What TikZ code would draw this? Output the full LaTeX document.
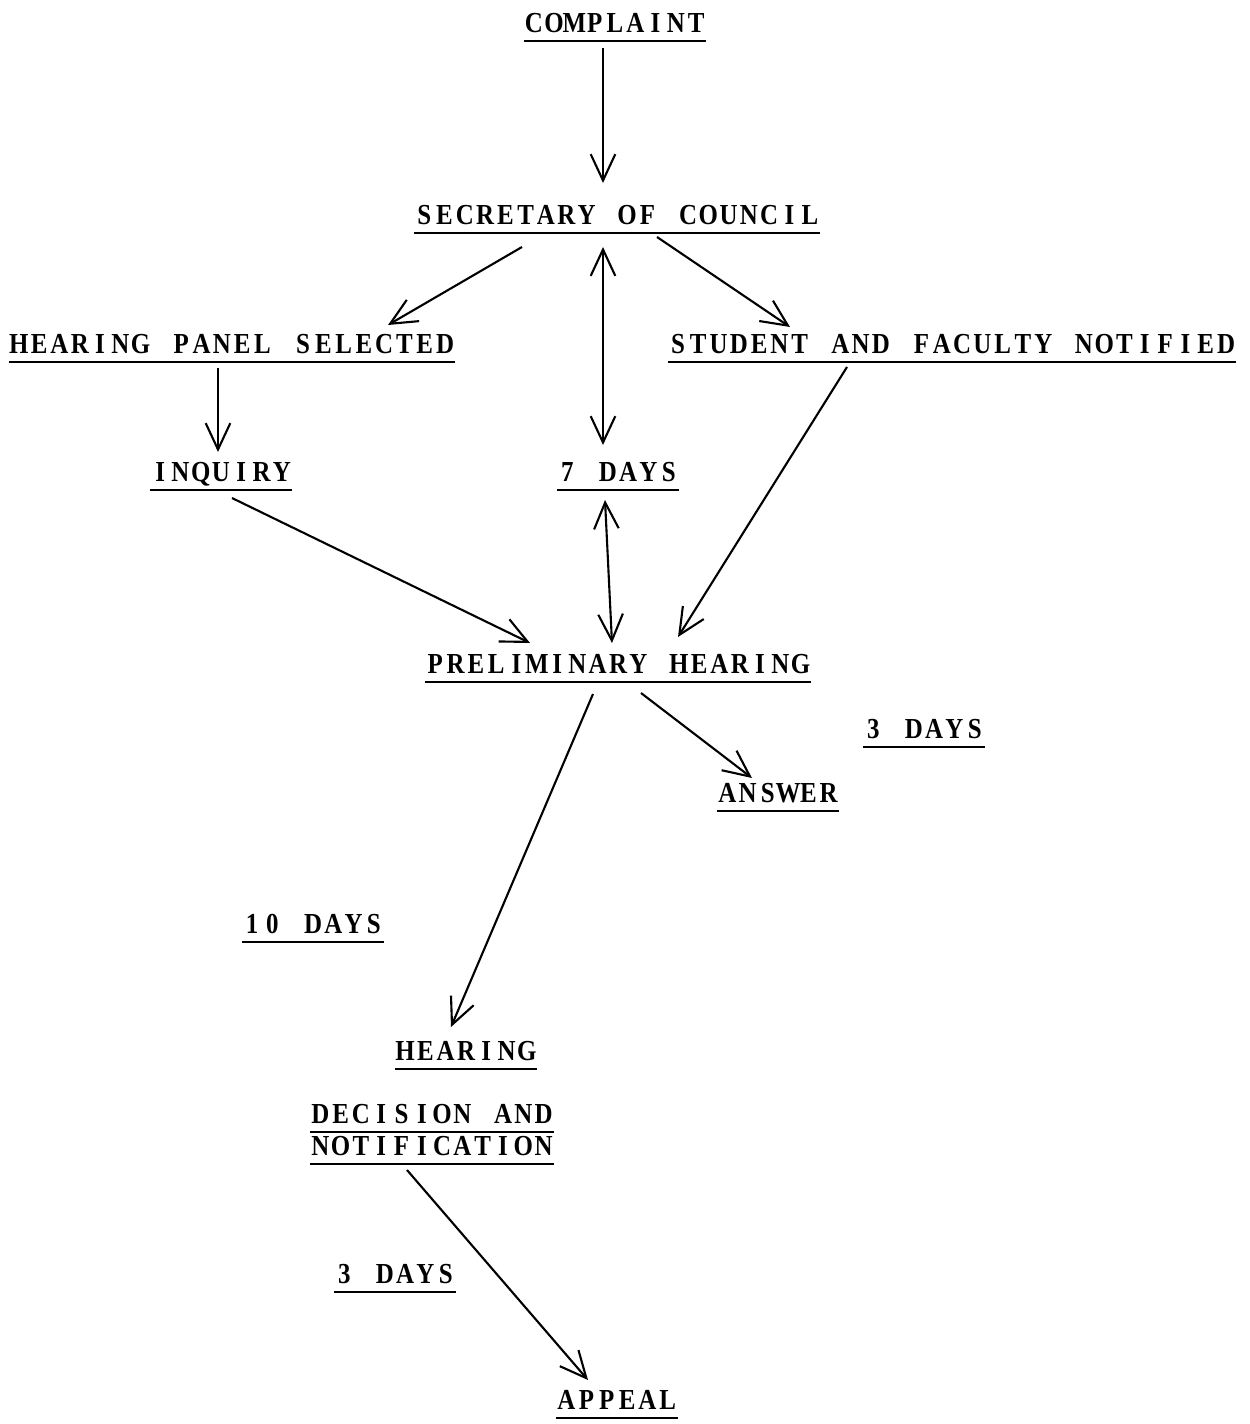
\documentclass[tikz,border=0pt]{standalone}
\usepackage{fontspec}
\setmainfont{Liberation Serif}
\usepackage{graphicx}
\usetikzlibrary{arrows.meta,calc}
\newlength\twpitch
\setlength\twpitch{0.406cm}
\newcommand\tw[1]{\twloop#1\relax}
\def\twloop#1{\ifx\relax#1\else\makebox[\twpitch]{\scalebox{0.86}[1]{#1}}\expandafter\twloop\fi}
\newcommand\twul[1]{\vtop{\hbox{\vphantom{A}\smash{\tw{#1}}}\kern4.6pt\hrule height 1.2pt}}
\tikzset{
  lbl/.style={inner sep=0pt, anchor=base, font=\fontsize{16.5}{19}\selectfont\bfseries},
  tip/.tip={Straight Barb[length=15pt,width=14pt,line width=1.2pt]},
  arr/.style={line width=1.2pt, -tip},
  darr/.style={line width=1.2pt, tip-tip}
}
\begin{document}
\begin{tikzpicture}[x=0.02cm,y=-0.02cm]
\useasboundingbox[fill=white] (0,0) rectangle (1250,1424);
% nodes
\node[lbl] (comp)  at (615,32)   {\twul{COMPLAINT}};
\node[lbl] (sec)   at (617,224)  {\twul{SECRETARY~OF~COUNCIL}};
\node[lbl] (panel) at (232,353)  {\twul{HEARING~PANEL~SELECTED}};
\node[lbl] (notif) at (952,353)  {\twul{STUDENT~AND~FACULTY~NOTIFIED}};
\node[lbl] (inq)   at (221,481)  {\twul{INQUIRY}};
\node[lbl] (d7)    at (618,481)  {\twul{7~DAYS}};
\node[lbl] (prel)  at (618,673)  {\twul{PRELIMINARY~HEARING}};
\node[lbl] (d3a)   at (924,738)  {\twul{3~DAYS}};
\node[lbl] (ans)   at (778,802)  {\twul{ANSWER}};
\node[lbl] (d10)   at (313,933)  {\twul{10~DAYS}};
\node[lbl] (hear)  at (466,1060) {\twul{HEARING}};
\node[lbl] (dec1)  at (432,1123) {\twul{DECISION~AND}};
\node[lbl] (dec2)  at (432,1155) {\twul{NOTIFICATION}};
\node[lbl] (d3b)   at (395,1283) {\twul{3~DAYS}};
\node[lbl] (app)   at (617,1409) {\twul{APPEAL}};
% connectors
\draw[arr]  ($(comp.base)+(-12,16)$)  -- ($(sec.base)+(-14,-41)$);
\draw[arr]  ($(sec.base)+(-95,23)$)   -- ($(panel.base)+(156,-28)$);
\draw[darr] ($(sec.base)+(-14,23)$)   -- ($(d7.base)+(-15,-36)$);
\draw[arr]  ($(sec.base)+(40,13)$)    -- ($(notif.base)+(-162,-26)$);
\draw[arr]  ($(panel.base)+(-14,15)$) -- ($(inq.base)+(-3,-29)$);
\draw[arr]  ($(inq.base)+(11,17)$)    -- ($(prel.base)+(-88,-30)$);
\draw[darr] ($(d7.base)+(-13,19)$)    -- ($(prel.base)+(-6,-30)$);
\draw[arr]  ($(notif.base)+(-105,14)$) -- ($(prel.base)+(60,-36)$);
\draw[arr]  ($(prel.base)+(23,20)$)   -- ($(ans.base)+(-26,-24)$);
\draw[arr]  ($(prel.base)+(-25,21)$)  -- ($(hear.base)+(-15,-33)$);
\draw[arr]  ($(dec2.base)+(-25,15)$)  -- ($(app.base)+(-29,-29)$);
\end{tikzpicture}
\end{document}
